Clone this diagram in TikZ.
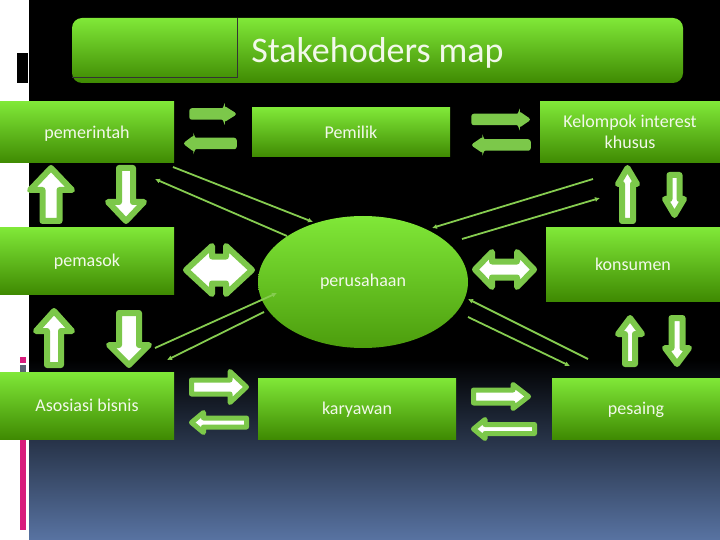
\documentclass[tikz,border=0pt]{standalone}
\usepackage{fontspec}
\setmainfont{Carlito}
\usepackage{xcolor}
\usepackage{tikz}
\usetikzlibrary{arrows.meta,shapes.geometric}
\definecolor{boxtop}{HTML}{80E838}
\definecolor{boxbot}{HTML}{3F8A02}
\definecolor{agreen}{HTML}{7CC84A}
\definecolor{lgreen}{HTML}{86CC50}
\definecolor{txt}{HTML}{F2F8EA}
\definecolor{bgblue}{HTML}{5873A2}
\definecolor{pinkbar}{HTML}{D81C7C}
\definecolor{graybar}{HTML}{5B6372}
\tikzset{
  box/.style={inner sep=0pt, top color=boxtop, bottom color=boxbot, text=txt,
    font=\fontsize{18}{21}\selectfont, align=center, text depth=1pt},
  hub/.style={ellipse, inner sep=0pt, top color=boxtop, bottom color=boxbot!80!boxtop,
    text=txt, font=\fontsize{18}{21}\selectfont, minimum width=210pt, minimum height=132pt},
  titlebox/.style={box, rounded corners=10pt, font=\fontsize{36}{40}\selectfont},
  flatarrow/.style={fill=agreen, draw=agreen, line width=1.5pt, rounded corners=2pt},
  outarrow/.style={draw=agreen, fill=white, line width=6pt, line join=round},
  thinarrow/.style={draw=agreen, fill=white, line width=5pt, line join=round},
  link/.style={draw=lgreen, line width=1.8pt, -{Latex[length=5pt,width=5pt]}},
  pics/barrow/.style n args={4}{code={
    \path[pic actions] (0,-#2) -- ({#1-#4},-#2) -- ({#1-#4},-#3) -- (#1,0)
      -- ({#1-#4},#3) -- ({#1-#4},#2) -- (0,#2) -- cycle;
  }},
  pics/dbarrow/.style n args={4}{code={
    \path[pic actions] (0,0) -- (#4,-#3) -- (#4,-#2) -- ({#1-#4},-#2) -- ({#1-#4},-#3)
      -- (#1,0) -- ({#1-#4},#3) -- ({#1-#4},#2) -- (#4,#2) -- (#4,#3) -- cycle;
  }}
}
\begin{document}
\begin{tikzpicture}[x=1pt, y=-1pt]
  \useasboundingbox (0,0) rectangle (720,540);
  % background
  \fill[white] (0,0) rectangle (29,540);
  \fill[black] (29,0) rectangle (720,360);
  \shade[top color=black, bottom color=bgblue] (29,360) rectangle (720,540);
  \fill[black] (17,53) rectangle (28,83);
  \fill[pinkbar] (20,357) rectangle (26,363);
  \fill[graybar] (20,365) rectangle (26,372);
  \fill[pinkbar] (20,437) rectangle (26,530);

  % title
  \node[titlebox, minimum width=611pt, minimum height=65pt] (title) at (377.5,50.5) {Stakehoders map};
  \draw[black!80, line width=0.8pt] (237,18) -- (237,77) -- (72,77);

  % stakeholders
  \node[box, minimum width=174pt, minimum height=61pt] (pemerintah) at (87,132.5) {pemerintah};
  \node[box, minimum width=198pt, minimum height=49pt] (pemilik) at (351,132.5) {Pemilik};
  \node[box, minimum width=180pt, minimum height=61pt] (kelompok) at (630,132.5) {Kelompok interest\\khusus};
  \node[box, minimum width=174pt, minimum height=66pt] (pemasok) at (87,261) {pemasok};
  \node[hub] (perusahaan) at (363,282) {perusahaan};
  \node[box, minimum width=174pt, minimum height=73pt] (konsumen) at (633,264.5) {konsumen};
  \node[box, minimum width=174pt, minimum height=67pt] (asosiasi) at (87,405.5) {Asosiasi bisnis};
  \node[box, minimum width=198pt, minimum height=61pt] (karyawan) at (357,408.5) {karyawan};
  \node[box, minimum width=168pt, minimum height=61pt] (pesaing) at (636,408.5) {pesaing};

  % block arrows, top row
  \pic[flatarrow] at (190,114) {barrow={46}{5}{7.5}{12}};
  \pic[flatarrow, rotate=180] at (236,143.5) {barrow={52}{5}{7.5}{10}};
  \pic[flatarrow] at (472,119.5) {barrow={58}{5}{7.5}{11}};
  \pic[flatarrow, rotate=180] at (530,145) {barrow={58}{5}{7.5}{11}};

  % block arrows, up and down
  \pic[outarrow, rotate=90] at (51,221) {barrow={53}{8.5}{21}{22}};
  \pic[outarrow, rotate=-90] at (126,168) {barrow={53}{7}{18}{19}};
  \pic[outarrow, rotate=90] at (54,365) {barrow={54}{7}{18}{20}};
  \pic[outarrow, rotate=-90] at (129,313) {barrow={52}{10}{20}{20}};
  \pic[outarrow, rotate=90] at (627.5,221) {barrow={53}{5.5}{9.5}{16}};
  \pic[outarrow, rotate=-90] at (674.5,175) {barrow={40}{5}{9.5}{16}};
  \pic[outarrow, rotate=90] at (630,364) {barrow={46}{5}{12}{16}};
  \pic[outarrow, rotate=-90] at (677,318) {barrow={46}{5.5}{12}{16}};

  % double arrows
  \pic[outarrow] at (186,270) {dbarrow={66}{13.5}{24}{26}};
  \pic[outarrow] at (475,269.5) {dbarrow={59}{8}{17.5}{17}};

  % block arrows, bottom row
  \pic[thinarrow] at (191.5,387) {barrow={55}{7}{15.5}{16.5}};
  \pic[thinarrow, rotate=180] at (246.5,422.5) {barrow={55}{4.5}{10}{12}};
  \pic[thinarrow] at (473.5,396.5) {barrow={55}{6.5}{12}{15.5}};
  \pic[thinarrow, rotate=180] at (534.5,429) {barrow={61}{4.5}{9.5}{11.5}};

  % thin links to perusahaan
  \coordinate (l1a) at (173,167);
  \coordinate (l1b) at (313,222);
  \coordinate (l2a) at (287,236);
  \coordinate (l2b) at (155,179);
  \coordinate (l3a) at (155,348);
  \coordinate (l3b) at (277,293);
  \coordinate (l4a) at (264,312);
  \coordinate (l4b) at (167,360);
  \coordinate (r1a) at (593,179);
  \coordinate (r1b) at (432,228);
  \coordinate (r2a) at (462,239);
  \coordinate (r2b) at (600,198);
  \coordinate (r3a) at (588,359);
  \coordinate (r3b) at (468,299);
  \coordinate (r4a) at (468,317);
  \coordinate (r4b) at (570,366);
  \draw[link] (l1a) -- (l1b);
  \draw[link] (l2a) -- (l2b);
  \draw[link] (l3a) -- (l3b);
  \draw[link] (l4a) -- (l4b);
  \draw[link] (r1a) -- (r1b);
  \draw[link] (r2a) -- (r2b);
  \draw[link] (r3a) -- (r3b);
  \draw[link] (r4a) -- (r4b);
\end{tikzpicture}
\end{document}
